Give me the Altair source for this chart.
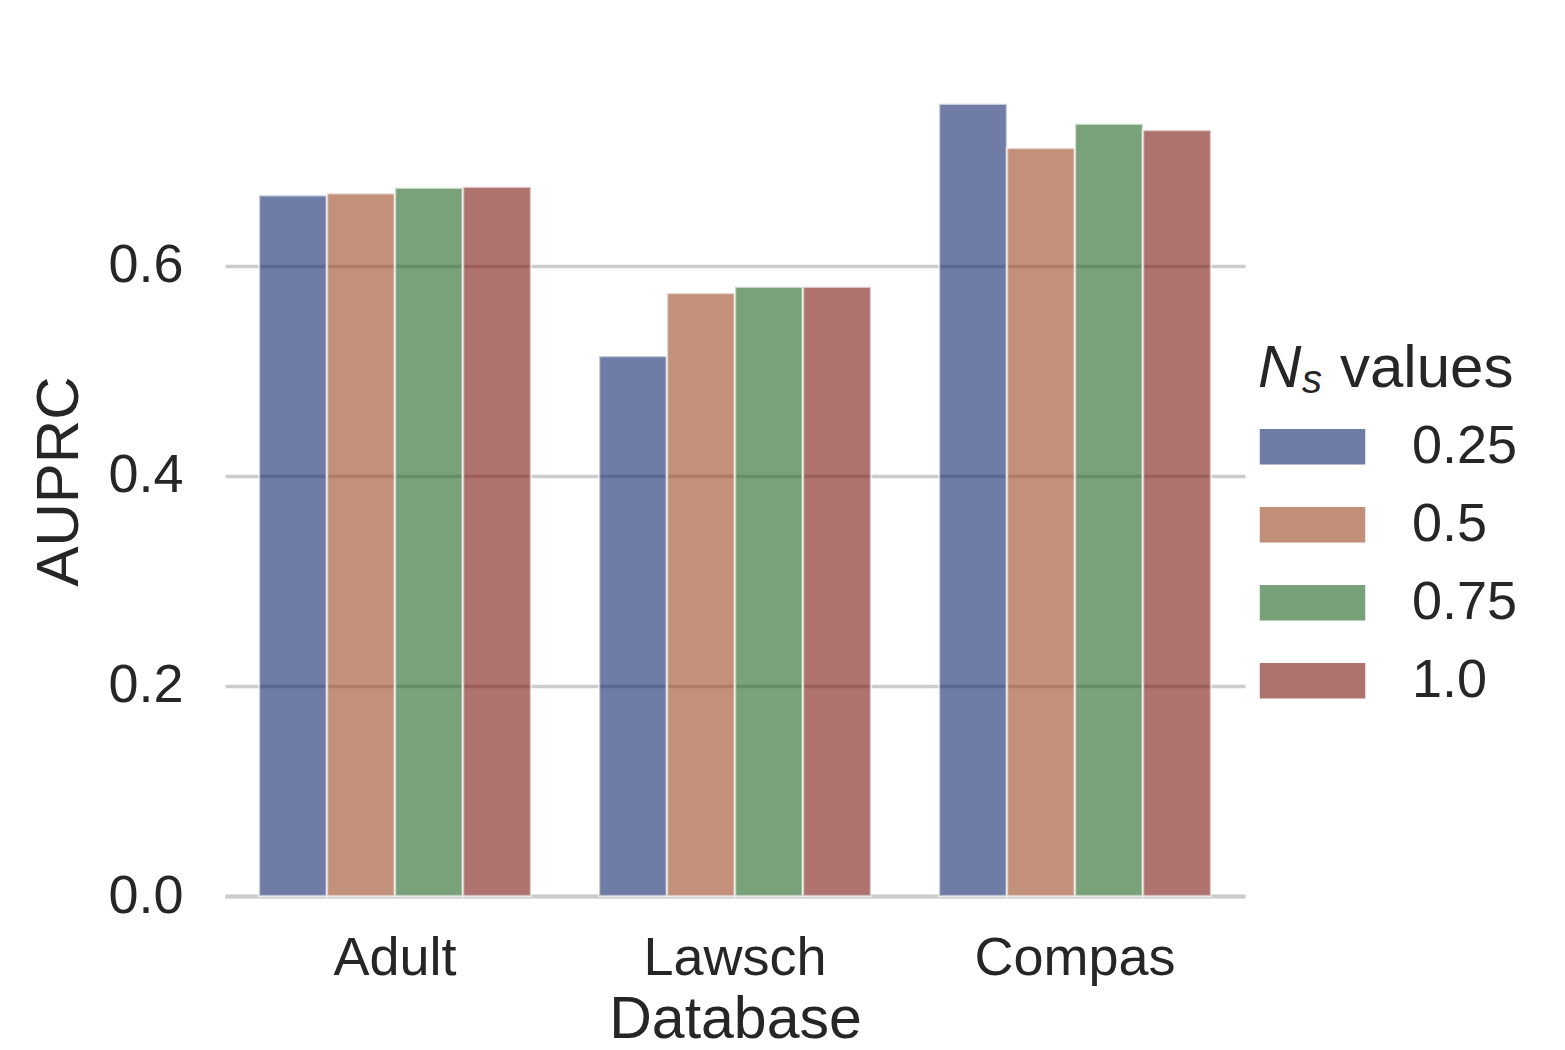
import altair as alt
import pandas as pd

databases = ["Adult", "Lawsch", "Compas"]
ns_values = ["0.25", "0.5", "0.75", "1.0"]
auprc_025 = [0.667, 0.514, 0.754]
auprc_050 = [0.669, 0.574, 0.712]
auprc_075 = [0.674, 0.580, 0.735]
auprc_100 = [0.675, 0.580, 0.729]
colors = ["#0f256b", "#9b4621", "#206421", "#78160f"]
y_ticks = [0.0, 0.2, 0.4, 0.6]

rows = []
for ns, vals in zip(ns_values, [auprc_025, auprc_050, auprc_075, auprc_100]):
    for db, v in zip(databases, vals):
        rows.append({"Database": db, "ns": ns, "AUPRC": v})
df = pd.DataFrame(rows)

FONT = "Liberation Sans"
TXT = "#262626"

bars = alt.Chart(df).mark_bar(
    fillOpacity=0.6, stroke="white", strokeOpacity=0.6, strokeWidth=2.5
).encode(
    x=alt.X("Database:N", sort=databases,
            scale=alt.Scale(paddingInner=0.2, paddingOuter=0.1),
            axis=alt.Axis(title="Database", labelAngle=0, ticks=False,
                          labelFontSize=54, titleFontSize=59, labelPadding=35,
                          titlePadding=5, domainColor="#cccccc", domainWidth=4,
                          labelLimit=0,
                          labelColor=TXT, titleColor=TXT, labelFont=FONT,
                          titleFont=FONT, titleFontWeight="normal", grid=False)),
    xOffset=alt.XOffset("ns:N", sort=ns_values,
                        scale=alt.Scale(paddingInner=0, paddingOuter=0)),
    y=alt.Y("AUPRC:Q", scale=alt.Scale(domain=[0, 0.79], nice=False),
            axis=alt.Axis(title="AUPRC", values=y_ticks, format=".1f",
                          ticks=False, domain=False, labelFontSize=54,
                          titleFontSize=60, labelPadding=42, titlePadding=17,
                          gridColor="#cccccc", gridWidth=3.5,
                          labelColor=TXT, titleColor=TXT, labelFont=FONT,
                          titleFont=FONT, titleFontWeight="normal")),
    color=alt.Color("ns:N", sort=ns_values,
                    scale=alt.Scale(domain=ns_values, range=colors),
                    legend=alt.Legend(
                        title=None, orient="none", legendX=1032, legendY=342,
                        symbolType="M-1,-0.35L1,-0.35L1,0.35L-1,0.35Z",
                        symbolSize=11664, symbolOpacity=0.6,
                        symbolStrokeColor="white", symbolStrokeWidth=2.5,
                        labelFontSize=54, labelFont=FONT, labelColor=TXT,
                        labelOffset=44, padding=0, rowPadding=0,
                        clipHeight=77.5)),
)

title_df = pd.DataFrame({"t": ["x"]})
t_n = alt.Chart(title_df).mark_text(
    text="N", font=FONT, fontSize=60, fontStyle="italic", color=TXT,
    align="left", baseline="alphabetic"
).encode(x=alt.value(1033), y=alt.value(321))
t_s = alt.Chart(title_df).mark_text(
    text="s", font=FONT, fontSize=40, fontStyle="italic", color=TXT,
    align="left", baseline="alphabetic"
).encode(x=alt.value(1077), y=alt.value(327))
t_v = alt.Chart(title_df).mark_text(
    text="values", font=FONT, fontSize=60, color=TXT,
    align="left", baseline="alphabetic"
).encode(x=alt.value(1115), y=alt.value(321))

chart = alt.layer(bars, t_n, t_s, t_v).properties(
    width=1020, height=830,
    autosize=alt.AutoSizeParams(type="none"),
    padding={"left": 217, "top": 58, "right": 300, "bottom": 146},
    background="white",
).configure_view(stroke=None)

chart.save("out.html", embed_options={"renderer": "svg", "actions": False})
